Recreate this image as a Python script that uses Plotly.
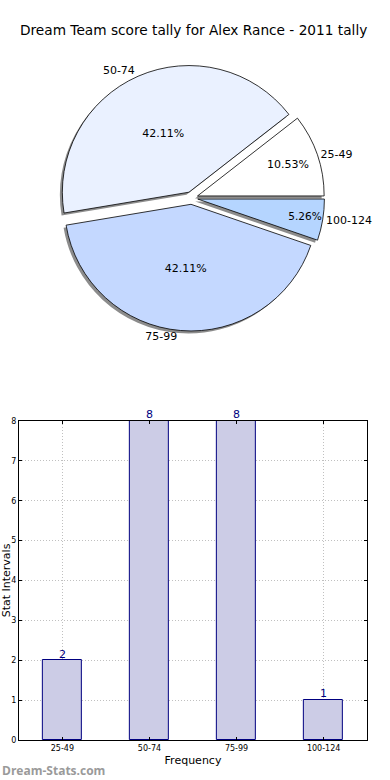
import plotly.graph_objects as go

categories = ["25-49", "50-74", "75-99", "100-124"]
counts = [2, 8, 8, 1]
pie_colors = ["#FFFFFF", "#EAF1FF", "#C4D8FF", "#B5D5FF"]
pulls = [0.05, 0.05, 0.05, 0.05]
title_text = "Dream Team score tally for Alex Rance - 2011 tally"

W, H = 390, 780
FONT = "DejaVu Sans"

def px_x(v):
    return v / W

def px_y(v):
    return (H - v) / H

# first slice starts at 3 o'clock and runs counterclockwise
rot = 90 - 360.0 * counts[0] / sum(counts)

cx, cy, half = 193, 198, 134
dom_x = [px_x(cx - half), px_x(cx + half)]
dom_y = [px_y(cy + half), px_y(cy - half)]
sdx, sdy = -2.5 / W, -2.5 / H

fig = go.Figure()

pie_common = dict(labels=categories, values=counts, sort=False,
                  direction="counterclockwise", rotation=rot, pull=pulls,
                  showlegend=False)

# shadow
fig.add_trace(go.Pie(
    **pie_common,
    marker=dict(colors=["rgba(0,0,0,0.45)"] * 4, line=dict(width=0)),
    textinfo="none", hoverinfo="skip",
    domain=dict(x=[dom_x[0] + sdx, dom_x[1] + sdx], y=[dom_y[0] + sdy, dom_y[1] + sdy]),
))
# main with percentages
fig.add_trace(go.Pie(
    **pie_common,
    marker=dict(colors=pie_colors, line=dict(color="#000000", width=0.8)),
    texttemplate="%{percent:.2%}", textposition="inside",
    insidetextorientation="horizontal",
    textfont=dict(family=FONT, size=11, color="#000000"),
    domain=dict(x=dom_x, y=dom_y),
))
# outside labels
fig.add_trace(go.Pie(
    **pie_common,
    marker=dict(colors=["rgba(0,0,0,0)"] * 4, line=dict(width=0)),
    textinfo="label", textposition="outside",
    textfont=dict(family=FONT, size=11, color="#000000"),
    hoverinfo="skip",
    domain=dict(x=dom_x, y=dom_y),
))

fig.add_trace(go.Bar(
    x=categories, y=counts, width=0.45,
    marker=dict(color="#CCCCE6", line=dict(color="#000080", width=1)),
    showlegend=False, xaxis="x", yaxis="y",
))
# value labels above bars
fig.add_trace(go.Scatter(
    x=categories, y=counts, mode="text",
    text=[str(v) for v in counts], textposition="top center",
    textfont=dict(family=FONT, size=11, color="#000080"),
    cliponaxis=False, showlegend=False, hoverinfo="skip",
    xaxis="x", yaxis="y",
))

axis_common = dict(
    showline=True, linecolor="#000000", linewidth=1, mirror="ticks",
    ticks="inside", ticklen=3, tickcolor="#000000",
    showgrid=True, gridcolor="#c0c0c0", griddash="1px,2px", gridwidth=1,
    tickfont=dict(family=FONT, size=8, color="#000000"),
    zeroline=False, automargin=False,
)

fig.update_layout(
    width=W, height=H,
    margin=dict(l=0, r=0, t=0, b=0),
    paper_bgcolor="#FFFFFF", plot_bgcolor="#FFFFFF",
    font=dict(family=FONT, color="#000000"),
    bargap=0,
    xaxis=dict(
        domain=[px_x(19), px_x(370)], anchor="y",
        range=[-0.5, 3.5], type="category",
        title=dict(text="Frequency", font=dict(family=FONT, size=11), standoff=4),
        **axis_common,
    ),
    yaxis=dict(
        domain=[px_y(740), px_y(421)], anchor="x",
        range=[0, 8], dtick=1,
        title=dict(text="Stat Intervals", font=dict(family=FONT, size=11), standoff=0),
        **axis_common,
    ),
    annotations=[
        dict(text=title_text, x=0.5, y=px_y(30), xref="paper", yref="paper",
             showarrow=False, xanchor="center", yanchor="middle",
             font=dict(family=FONT, size=13.7, color="#000000")),
        dict(text="<b>Dream-Stats.com</b>", x=px_x(0), y=px_y(770), xref="paper", yref="paper",
             showarrow=False, xanchor="left", yanchor="middle",
             font=dict(family="Open Sans", size=12, color="#9a9a9a")),
    ],
)

fig.write_html(
    "out.html",
    config={"displayModeBar": False, "responsive": False},
    post_script=(
        "document.documentElement.style.margin='0';"
        "document.documentElement.style.overflow='hidden';"
        "document.body.style.margin='0';"
        "document.body.style.overflow='hidden';"
    ),
)
